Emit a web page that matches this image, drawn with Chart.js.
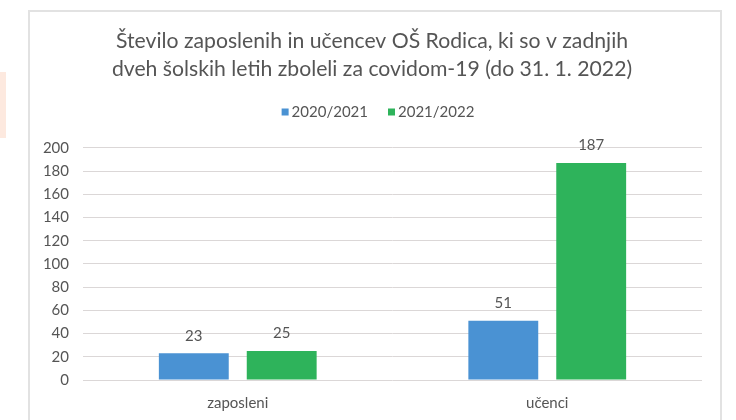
<!DOCTYPE html>
<html>
<head>
<meta charset="utf-8">
<script src="https://cdn.jsdelivr.net/npm/chart.js@4"></script>
<style>
  body { margin: 0; background: #ffffff; }
  .okvir {
    position: absolute; left: 28px; top: 10px; width: 694px; height: 420px;
    border: 2px solid #e2e2e2; box-sizing: border-box; background: #ffffff;
  }
  .oznaka {
    position: absolute; left: 0; top: 72px; width: 6px; height: 66px; background: #fde9df;
  }
  #graf { position: absolute; left: 0; top: 0; }
</style>
</head>
<body>
<div class="oznaka"></div>
<div class="okvir"></div>
<canvas id="graf" width="736" height="420"></canvas>
<script>
// podatki
const kategorije = ["zaposleni", "učenci"];
const leta = ["2020/2021", "2021/2022"];
const vrednosti2021 = [23, 51];
const vrednosti2022 = [25, 187];
const naslov = [
  "Število zaposlenih in učencev OŠ Rodica, ki so v zadnjih",
  "dveh šolskih letih zboleli za covidom-19 (do 31. 1. 2022)"
];
const yMax = 200;
const yKorak = 20;

const barve = ["#4a92d3", "#2eb35b"];
const sivaBesedilo = "#555555";
const pisava = "Lato, 'Open Sans', sans-serif";

// vrednosti nad stolpci
const oznakeVrednosti = {
  id: "oznakeVrednosti",
  afterDatasetsDraw(chart) {
    const ctx = chart.ctx;
    ctx.save();
    ctx.font = "15px " + pisava;
    ctx.fillStyle = sivaBesedilo;
    ctx.textAlign = "center";
    ctx.textBaseline = "bottom";
    chart.data.datasets.forEach((ds, i) => {
      chart.getDatasetMeta(i).data.forEach((bar, j) => {
        ctx.fillText(ds.data[j], bar.x, bar.y - 10);
      });
    });
    ctx.restore();
  }
};

// legenda: majhni kvadratki tik ob besedilu, pod naslovom
const legendaZgoraj = {
  id: "legendaZgoraj",
  afterDraw(chart) {
    const ctx = chart.ctx;
    const y = 112, kvadrat = 7, razmik = 3, medElementi = 20;
    ctx.save();
    ctx.font = "15px " + pisava;
    ctx.textBaseline = "middle";
    const sirine = chart.data.datasets.map(ds => kvadrat + razmik + ctx.measureText(ds.label).width);
    const skupaj = sirine.reduce((a, b) => a + b, 0) + medElementi * (sirine.length - 1);
    let x = 378 - skupaj / 2;
    chart.data.datasets.forEach((ds, i) => {
      ctx.fillStyle = ds.backgroundColor;
      ctx.fillRect(x, y - kvadrat / 2, kvadrat, kvadrat);
      ctx.fillStyle = sivaBesedilo;
      ctx.fillText(ds.label, x + kvadrat + razmik, y);
      x += sirine[i] + medElementi;
    });
    ctx.restore();
  }
};

new Chart(document.getElementById("graf"), {
  type: "bar",
  data: {
    labels: kategorije,
    datasets: [
      { label: leta[0], data: vrednosti2021, backgroundColor: barve[0] },
      { label: leta[1], data: vrednosti2022, backgroundColor: barve[1] }
    ]
  },
  options: {
    responsive: false,
    animation: false,
    categoryPercentage: 0.568,
    barPercentage: 0.795,
    layout: { padding: { left: 42, right: 34, top: 27, bottom: 0 } },
    plugins: {
      title: {
        display: true,
        text: naslov,
        color: sivaBesedilo,
        font: { family: pisava, size: 21.2, weight: "normal", lineHeight: 1.32 },
        padding: { top: 0, bottom: 65 }
      },
      legend: { display: false },
      tooltip: { enabled: false }
    },
    scales: {
      x: {
        grid: { display: false, drawTicks: false },
        border: { display: false },
        ticks: { color: sivaBesedilo, font: { family: pisava, size: 15 }, padding: 14 },
        afterFit(scale) { scale.height = 40; }
      },
      y: {
        min: 0,
        max: yMax,
        ticks: { stepSize: yKorak, color: sivaBesedilo, font: { family: pisava, size: 15 }, padding: 14 },
        grid: { color: "#dbd7d7", drawTicks: false },
        border: { display: false },
        afterFit(scale) { scale.width = 41; }
      }
    }
  },
  plugins: [oznakeVrednosti, legendaZgoraj]
});
</script>
</body>
</html>
